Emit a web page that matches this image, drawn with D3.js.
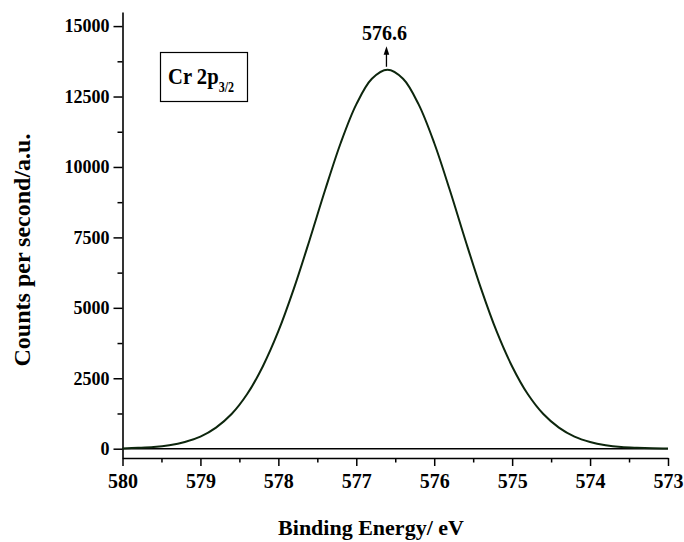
<!DOCTYPE html>
<html>
<head>
<meta charset="utf-8">
<script src="https://cdn.jsdelivr.net/npm/d3@7"></script>
<style>
    body { margin: 0; background: #fff; }
    text { font-family: "Liberation Serif", "Times New Roman", serif; font-weight: bold; }
</style>
</head>
<body>
<div id="chart"></div>
<script>
var width = 684;
var height = 542;

// plot area
var plotLeft = 122.5;
var plotRight = 668;
var plotTop = 12;
var plotBottom = 458;

// Binding energy (eV) and counts
var energies = [580.0, 579.8, 579.6, 579.4, 579.2, 579.0, 578.8, 578.6, 578.4, 578.2,
    578.0, 577.8, 577.6, 577.4, 577.2, 577.0, 576.8, 576.6, 576.4, 576.2,
    576.0, 575.8, 575.6, 575.4, 575.2, 575.0, 574.8, 574.6, 574.4, 574.2,
    574.0, 573.8, 573.6, 573.4, 573.2, 573.0];
var counts = [10, 30, 60, 125, 240, 430, 750, 1230, 1940, 2920,
    4170, 5690, 7400, 9180, 10850, 12220, 13130, 13450, 13130, 12220,
    10850, 9180, 7400, 5690, 4170, 2920, 1940, 1230, 750, 430,
    240, 125, 60, 30, 12, 5];

var xTicks = [580, 579, 578, 577, 576, 575, 574, 573];
var xMinorTicks = [579.5, 578.5, 577.5, 576.5, 575.5, 574.5, 573.5];
var yTicks = [0, 2500, 5000, 7500, 10000, 12500, 15000];
var yMinorTicks = [1250, 3750, 6250, 8750, 11250, 13750];

var peakEnergy = 576.6;
var peakCounts = 13450;
var peakLabel = "576.6";

var xTitle = "Binding Energy/ eV";
var yTitle = "Counts per second/a.u.";

var svg = d3.select("#chart").append("svg")
    .attr("width", width)
    .attr("height", height);

var x = d3.scaleLinear().domain([580, 573]).range([plotLeft, plotRight]);
var y = d3.scaleLinear().domain([-330, 15500]).range([plotBottom, plotTop]);

// zero baseline
svg.append("line")
    .attr("x1", x(580)).attr("x2", x(573))
    .attr("y1", y(0)).attr("y2", y(0))
    .attr("stroke", "#000")
    .attr("stroke-width", 1.6);

// minor ticks
svg.append("g")
    .attr("transform", "translate(0," + plotBottom + ")")
    .call(d3.axisBottom(x).tickValues(xMinorTicks).tickSize(4.5).tickFormat(""))
    .call(function (g) { g.select(".domain").remove(); })
    .selectAll("line").attr("stroke-width", 1.5);

svg.append("g")
    .attr("transform", "translate(" + plotLeft + ",0)")
    .call(d3.axisLeft(y).tickValues(yMinorTicks).tickSize(5).tickFormat(""))
    .call(function (g) { g.select(".domain").remove(); })
    .selectAll("line").attr("stroke-width", 1.5);

// major axes
var xAxis = svg.append("g")
    .attr("transform", "translate(0," + plotBottom + ")")
    .call(d3.axisBottom(x).tickValues(xTicks).tickSize(8).tickSizeOuter(0).tickPadding(8)
        .tickFormat(d3.format("d")));
xAxis.select(".domain").attr("stroke-width", 1.6);
xAxis.selectAll("line").attr("stroke-width", 1.5);
xAxis.selectAll("text")
    .attr("font-size", "20px")
    .attr("fill", "#000");

var yAxis = svg.append("g")
    .attr("transform", "translate(" + plotLeft + ",0)")
    .call(d3.axisLeft(y).tickValues(yTicks).tickSize(9).tickSizeOuter(0).tickPadding(4)
        .tickFormat(d3.format("d")));
yAxis.select(".domain").attr("stroke-width", 1.6);
yAxis.selectAll("line").attr("stroke-width", 1.5);
yAxis.selectAll("text")
    .attr("font-size", "18px")
    .attr("fill", "#000");

// spectrum
var points = energies.map(function (e, i) { return [e, counts[i]]; });
var line = d3.line()
    .x(function (d) { return x(d[0]); })
    .y(function (d) { return y(d[1]); })
    .curve(d3.curveCatmullRom.alpha(0.5));

svg.append("path")
    .datum(points)
    .attr("d", line)
    .attr("fill", "none")
    .attr("stroke", "#0d260d")
    .attr("stroke-width", 2);

// peak arrow + label
var px = x(peakEnergy) - 1;
var py = y(peakCounts);
svg.append("line")
    .attr("x1", px).attr("x2", px)
    .attr("y1", py - 3).attr("y2", py - 17)
    .attr("stroke", "#000")
    .attr("stroke-width", 1.3);
svg.append("path")
    .attr("d", "M" + (px - 2.8) + "," + (py - 15) + "L" + px + "," + (py - 23.5) + "L" + (px + 2.8) + "," + (py - 15) + "Z")
    .attr("fill", "#000");
svg.append("text")
    .attr("x", px - 2)
    .attr("y", py - 29.5)
    .attr("text-anchor", "middle")
    .attr("font-size", "20px")
    .text(peakLabel);

// label box
svg.append("rect")
    .attr("x", 160.5).attr("y", 52.5)
    .attr("width", 87).attr("height", 49)
    .attr("fill", "none")
    .attr("stroke", "#000")
    .attr("stroke-width", 1.2);
var label = svg.append("text")
    .attr("transform", "translate(168,84) scale(0.86,1)")
    .attr("font-size", "24px");
label.append("tspan").text("Cr 2p");
label.append("tspan")
    .attr("font-size", "14px")
    .attr("dy", 8)
    .text("3/2");

// axis titles
svg.append("text")
    .attr("x", 371)
    .attr("y", 535)
    .attr("text-anchor", "middle")
    .attr("font-size", "22px")
    .text(xTitle);

svg.append("text")
    .attr("transform", "translate(30,250) rotate(-90)")
    .attr("text-anchor", "middle")
    .attr("font-size", "24px")
    .text(yTitle);
</script>
</body>
</html>
